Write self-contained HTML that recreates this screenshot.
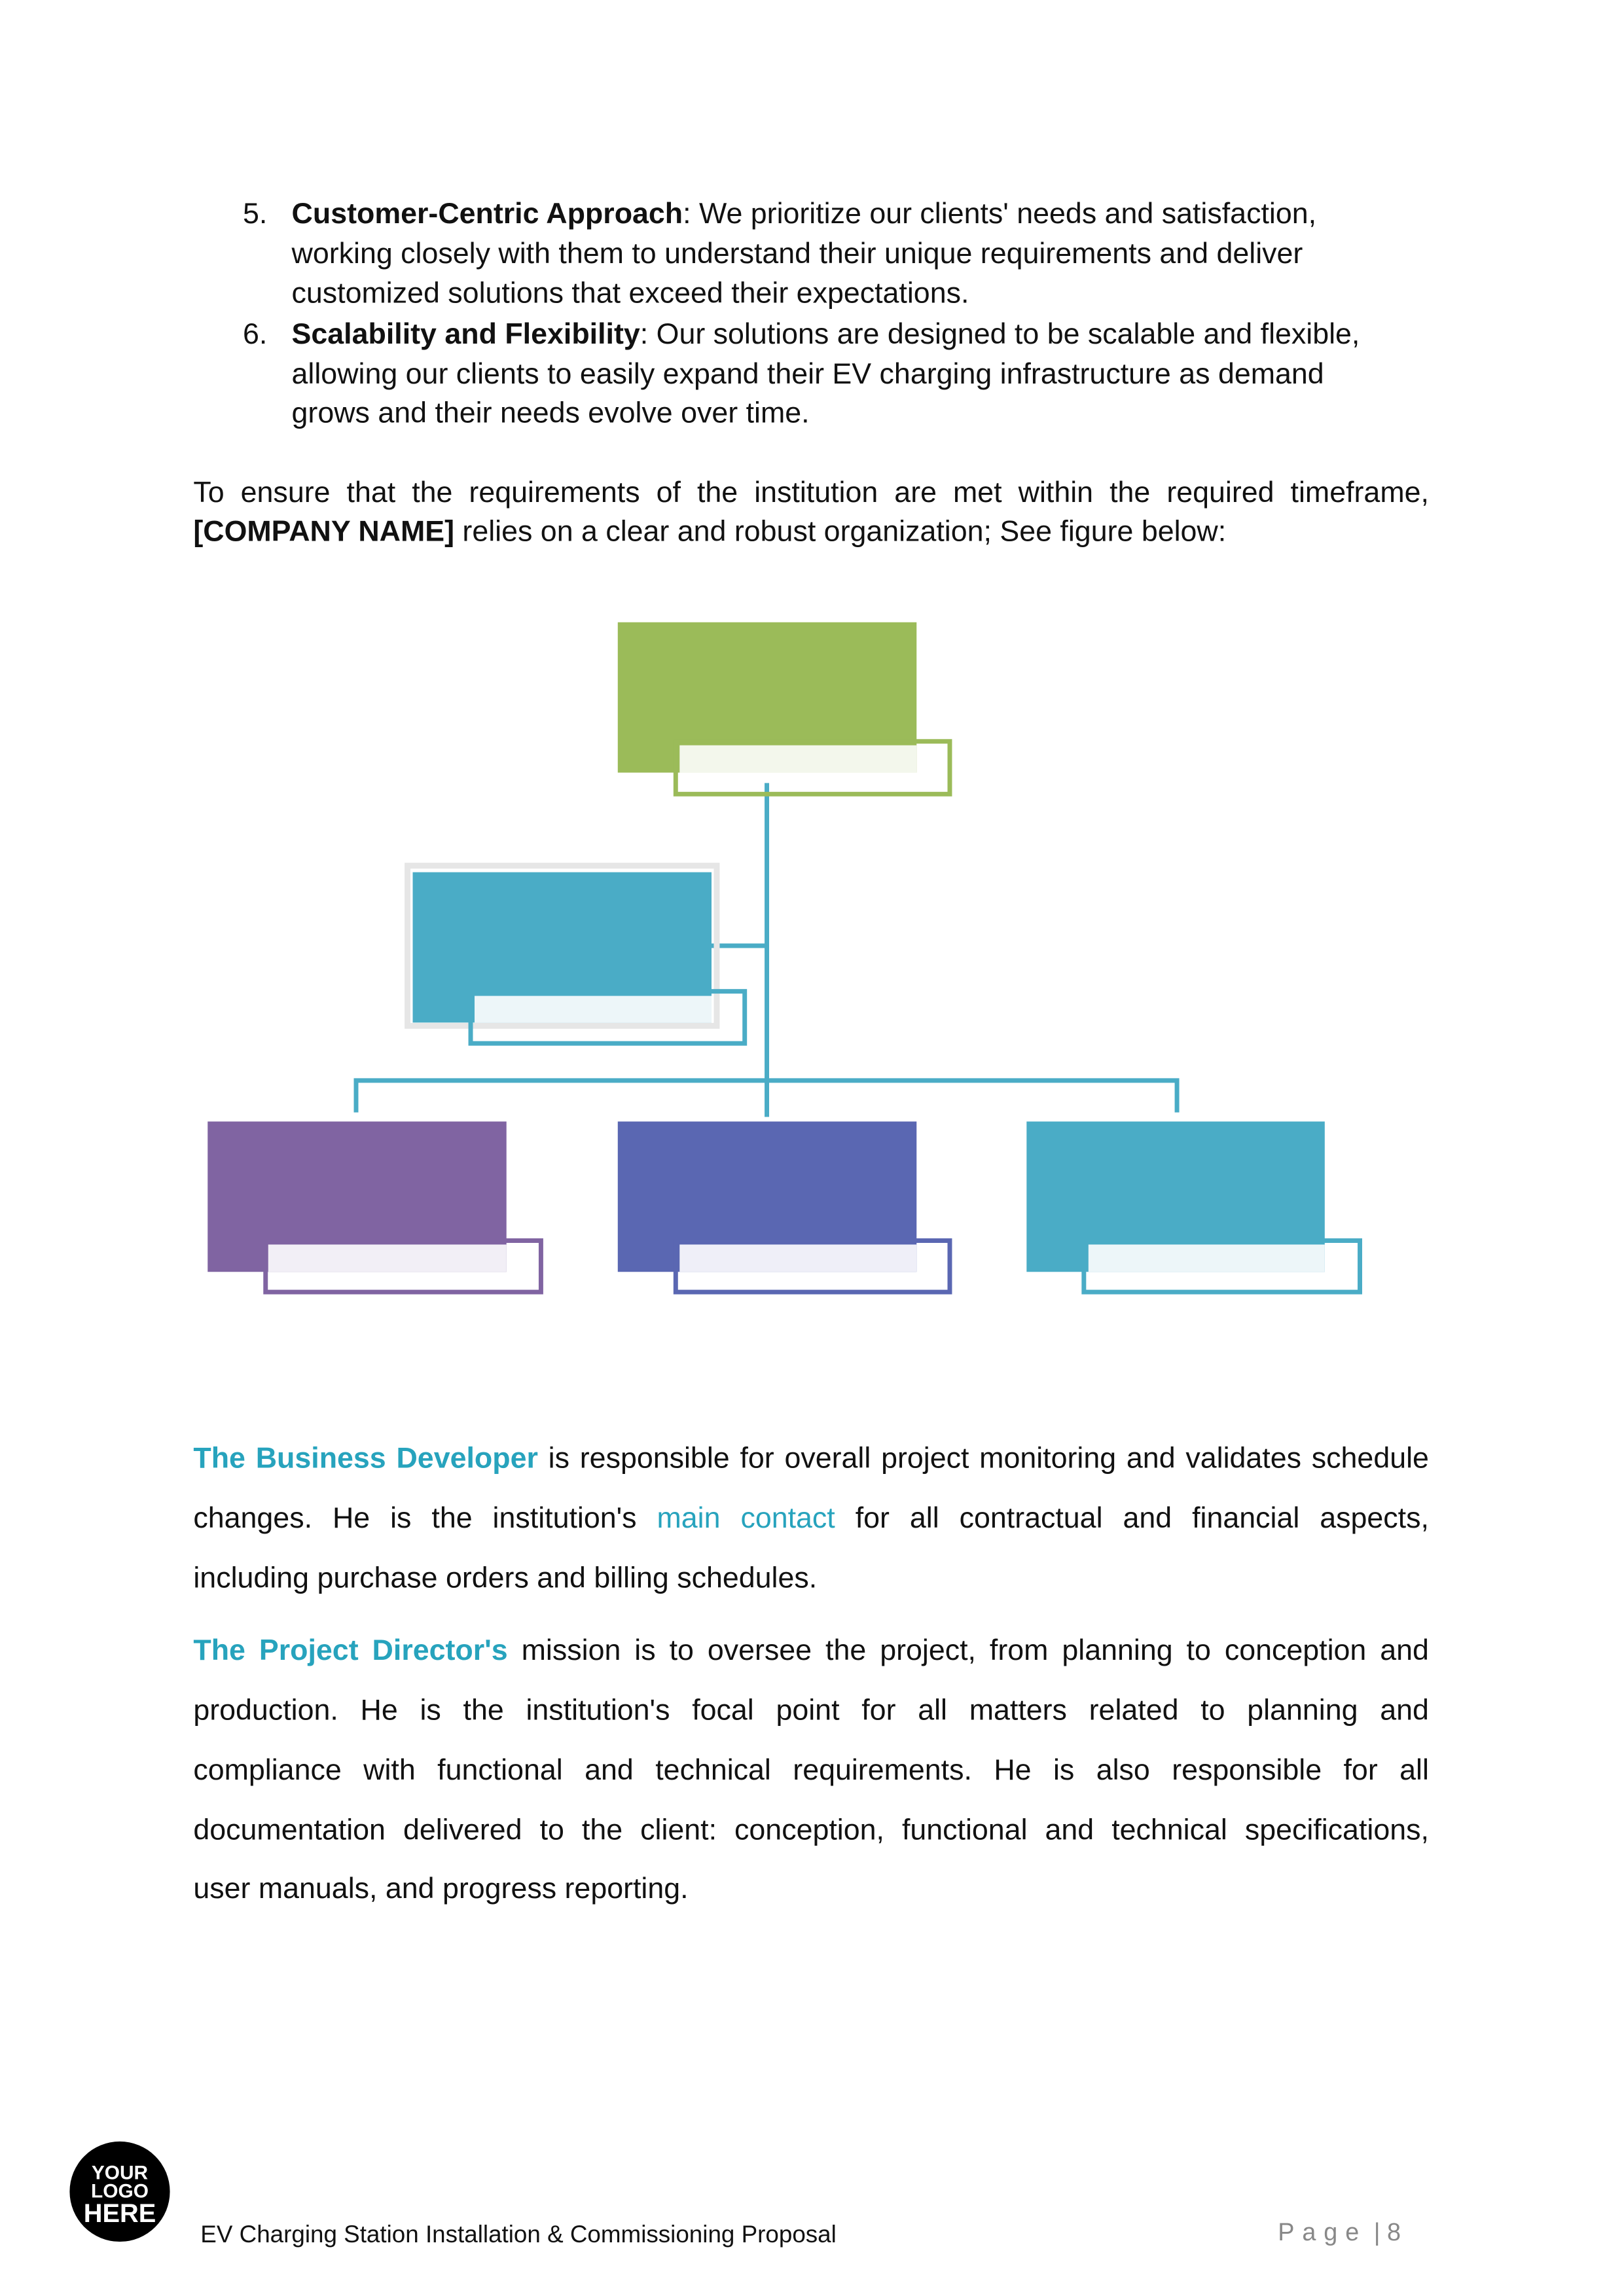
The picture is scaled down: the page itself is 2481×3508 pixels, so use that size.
<!DOCTYPE html>
<html><head><meta charset="utf-8"><style>
body{margin:0;width:2481px;height:3508px;background:#fff;position:relative;overflow:hidden;font-family:"Liberation Sans",sans-serif;color:#111;}
#w{position:absolute;left:0;top:0;width:2481px;height:3508px;transform:scale(0.9945);transform-origin:0 0;}
.l{position:absolute;white-space:nowrap;font-size:45px;line-height:60px;height:60px;}
.j{width:1898px;left:297px;text-align:justify;text-align-last:justify;}
.t{color:#27a3bd;}
.b{position:absolute;}
</style></head><body><div id="w">
<div class="l" style="left:373px;top:298px">5.</div>
<div class="l" style="left:448px;top:298px"><b>Customer-Centric Approach</b>: We prioritize our clients' needs and satisfaction,</div>
<div class="l" style="left:448px;top:359px">working closely with them to understand their unique requirements and deliver</div>
<div class="l" style="left:448px;top:420px">customized solutions that exceed their expectations.</div>
<div class="l" style="left:373px;top:483px">6.</div>
<div class="l" style="left:448px;top:483px"><b>Scalability and Flexibility</b>: Our solutions are designed to be scalable and flexible,</div>
<div class="l" style="left:448px;top:544px">allowing our clients to easily expand their EV charging infrastructure as demand</div>
<div class="l" style="left:448px;top:604px">grows and their needs evolve over time.</div>
<div class="l j" style="top:726px">To ensure that the requirements of the institution are met within the required timeframe,</div>
<div class="l" style="left:297px;top:786px"><b>[COMPANY NAME]</b> relies on a clear and robust organization; See figure below:</div>

<svg class="b" style="left:0;top:0" width="2481" height="2100">
<line x1="1178" y1="1203" x2="1178" y2="1716" stroke="#4aacc6" stroke-width="7"/>
<line x1="1093" y1="1453" x2="1178" y2="1453" stroke="#4aacc6" stroke-width="7"/>
<polyline points="547,1709 547,1660 1808,1660 1808,1709" fill="none" stroke="#4aacc6" stroke-width="7"/>
<rect x="949" y="956" width="459" height="231" fill="#9bbb59"/>
<rect x="1044" y="1145" width="364" height="42" fill="#f3f7ec"/>
<rect x="1038" y="1139" width="421" height="81" fill="none" stroke="#9bbb59" stroke-width="7"/>
<rect x="626" y="1330" width="475" height="246" fill="none" stroke="#e6e6e6" stroke-width="9"/>
<rect x="634" y="1340" width="459" height="231" fill="#4aacc6"/>
<rect x="729" y="1530" width="364" height="41" fill="#edf6f9"/>
<rect x="723" y="1523" width="421" height="80" fill="none" stroke="#4aacc6" stroke-width="7"/>
<rect x="319" y="1723" width="459" height="231" fill="#8064a2"/>
<rect x="412" y="1912" width="366" height="42" fill="#f2eff6"/>
<rect x="408" y="1906" width="423" height="79" fill="none" stroke="#8064a2" stroke-width="7"/>
<rect x="949" y="1723" width="459" height="231" fill="#5a67b2"/>
<rect x="1044" y="1912" width="364" height="42" fill="#efeff8"/>
<rect x="1038" y="1906" width="421" height="79" fill="none" stroke="#5a67b2" stroke-width="7"/>
<rect x="1577" y="1723" width="458" height="231" fill="#4aacc6"/>
<rect x="1672" y="1912" width="363" height="42" fill="#edf6f9"/>
<rect x="1665" y="1906" width="424" height="79" fill="none" stroke="#4aacc6" stroke-width="7"/>
</svg>

<div class="l j" style="top:2210px"><b class="t">The Business Developer</b> is responsible for overall project monitoring and validates schedule</div>
<div class="l j" style="top:2302px">changes. He is the institution's <span class="t">main contact</span> for all contractual and financial aspects,</div>
<div class="l" style="left:297px;top:2394px">including purchase orders and billing schedules.</div>
<div class="l j" style="top:2505px"><b class="t">The Project Director's</b> mission is to oversee the project, from planning to conception and</div>
<div class="l j" style="top:2597px">production. He is the institution's focal point for all matters related to planning and</div>
<div class="l j" style="top:2689px">compliance with functional and technical requirements. He is also responsible for all</div>
<div class="l j" style="top:2781px">documentation delivered to the client: conception, functional and technical specifications,</div>
<div class="l" style="left:297px;top:2871px">user manuals, and progress reporting.</div>

<div class="b" style="left:107px;top:3290px;width:154px;height:154px;border-radius:50%;background:#000;color:#fff;text-align:center;font-weight:bold;font-size:30px;line-height:28px;padding-top:35px;box-sizing:border-box;">YOUR<br>LOGO<br><span style="font-size:40px;line-height:40px">HERE</span></div>
<div class="l" style="left:308px;top:3403px;font-size:37px;">EV Charging Station Installation &amp; Commissioning Proposal</div>
<div class="l" style="left:1963px;top:3400px;font-size:38px;color:#888;letter-spacing:12px;">Page<span style="letter-spacing:0"> | 8</span></div>
</div></body></html>
